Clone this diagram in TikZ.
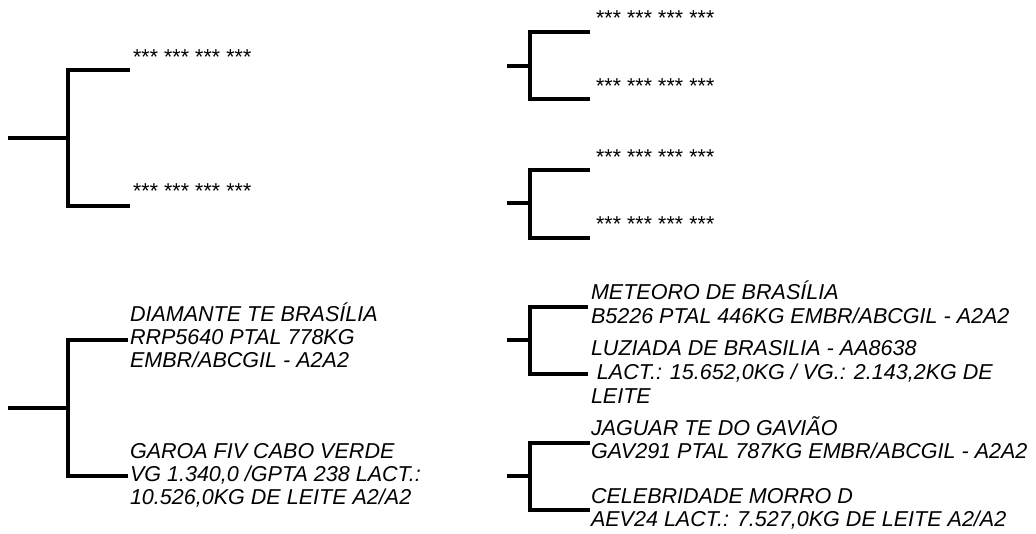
\documentclass[tikz,border=0pt]{standalone}
\usepackage{fontspec}
\setmainfont{Liberation Sans}
\begin{document}
\begin{tikzpicture}[x=0.75pt,y=-0.75pt,
  br/.style={line width=2.5pt, line join=miter, line cap=butt},
  lbl/.style={anchor=base west, inner sep=0pt, outer sep=0pt, font=\fontsize{16.15}{17.6}\selectfont\itshape}]
\useasboundingbox (0,0) rectangle (1036,534);

% ---------- bracket helper coordinates ----------
% bracket 1 (top left)
\coordinate (r1) at (8,138);  \coordinate (j1) at (68,138);
\coordinate (t1) at (130,70); \coordinate (b1) at (130,206);
% bracket 2 (top right, upper)
\coordinate (r2) at (507,66); \coordinate (j2) at (530,66);
\coordinate (t2) at (590,32); \coordinate (b2) at (590,99);
% bracket 3 (top right, lower)
\coordinate (r3) at (507,203); \coordinate (j3) at (530,203);
\coordinate (t3) at (590,170); \coordinate (b3) at (590,238);
% bracket 4 (bottom left)
\coordinate (r4) at (8,408);  \coordinate (j4) at (68,408);
\coordinate (t4) at (128,340); \coordinate (b4) at (128,476);
% bracket 5 (bottom right, upper)
\coordinate (r5) at (507,340); \coordinate (j5) at (530,340);
\coordinate (t5) at (588,307); \coordinate (b5) at (588,374);
% bracket 6 (bottom right, lower)
\coordinate (r6) at (507,476); \coordinate (j6) at (530,476);
\coordinate (t6) at (590,443); \coordinate (b6) at (590,510);

\foreach \i in {1,...,6}{
  \draw[br] (r\i) -- (j\i);
  \draw[br] (t\i) -- (t\i -| j\i) -- (b\i -| j\i) -- (b\i);
}

% ---------- texts ----------
\node[lbl] (s1) at (132,65) {*** *** *** ***};
\node[lbl] (s2) at (132,199) {*** *** *** ***};
\node[lbl] (s3) at (595,26) {*** *** *** ***};
\node[lbl] (s4) at (595,94) {*** *** *** ***};
\node[lbl] (s5) at (595,165) {*** *** *** ***};
\node[lbl] (s6) at (595,232) {*** *** *** ***};

\node[lbl] (d1) at (130,322) {DIAMANTE TE BRASÍLIA};
\node[lbl] (d2) at (130,345) {RRP5640 PTAL 778KG};
\node[lbl] (d3) at (130,368) {EMBR/ABCGIL - A2A2};
\node[lbl] (g1) at (130,459) {GAROA FIV CABO VERDE};
\node[lbl] (g2) at (130,482) {VG 1.340,0 /GPTA 238 LACT.:};
\node[lbl] (g3) at (130,505) {10.526,0KG DE LEITE A2/A2};

\node[lbl] (m1) at (591,300) {METEORO DE BRASÍLIA};
\node[lbl] (m2) at (591,324) {B5226 PTAL 446KG EMBR/ABCGIL - A2A2};
\node[lbl] (l1) at (591,356) {LUZIADA DE BRASILIA - AA8638};
\node[lbl] (l2) at (591,380) {\ LACT.: 15.652,0KG / VG.: 2.143,2KG DE};
\node[lbl] (l3) at (591,404) {LEITE};
\node[lbl] (ja1) at (591,436) {JAGUAR TE DO GAVIÃO};
\node[lbl] (ja2) at (591,459) {GAV291 PTAL 787KG EMBR/ABCGIL - A2A2};
\node[lbl] (c1) at (591,504) {CELEBRIDADE MORRO D};
\node[lbl] (c2) at (591,527) {AEV24 LACT.: 7.527,0KG DE LEITE A2/A2};
\end{tikzpicture}
\end{document}
